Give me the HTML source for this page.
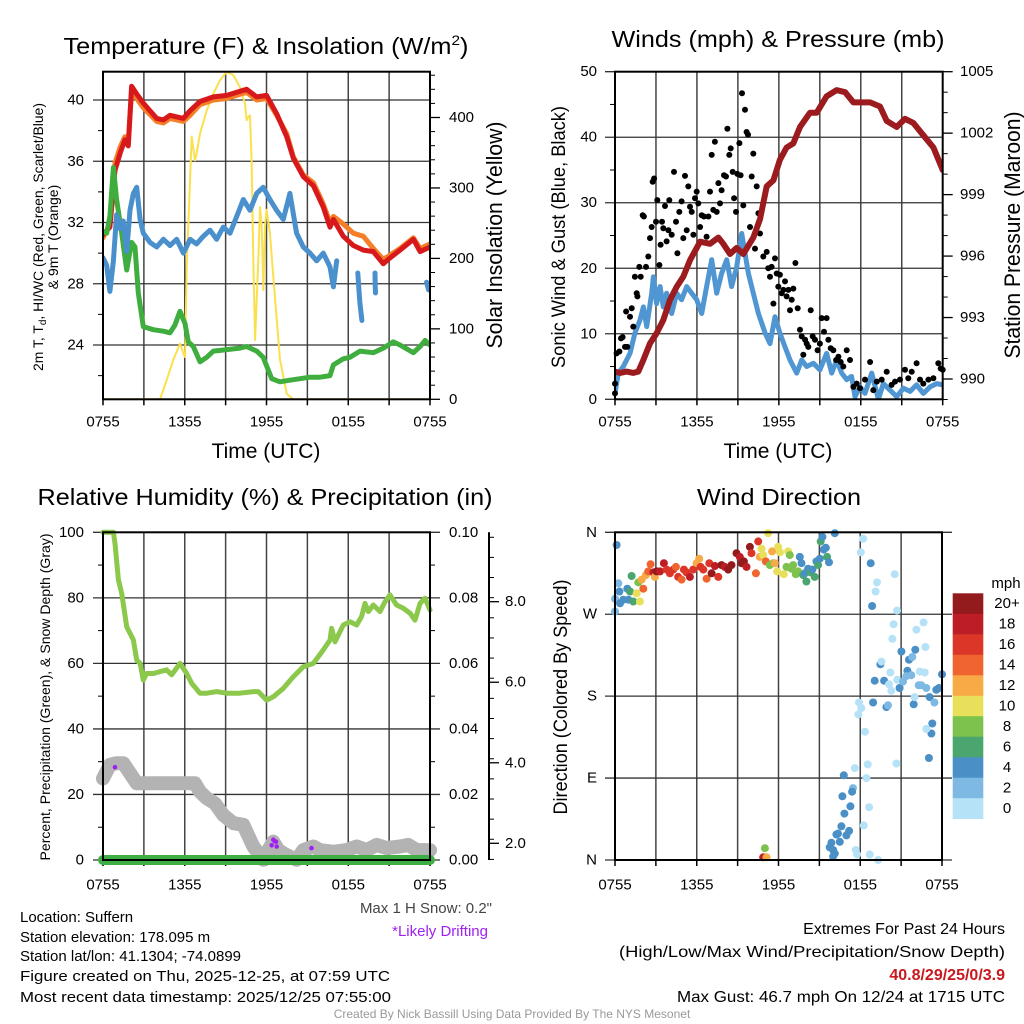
<!DOCTYPE html>
<html><head><meta charset="utf-8">
<style>
html,body{margin:0;padding:0;background:#fff;}
svg{display:block;font-family:"Liberation Sans",sans-serif;}
</style></head>
<body>
<svg id="chart" width="1024" height="1024" viewBox="0 0 1024 1024" xmlns="http://www.w3.org/2000/svg">
<rect x="0" y="0" width="1024" height="1024" fill="#fff"/>
<defs>
<clipPath id="c1"><rect x="103" y="71" width="327" height="329"/></clipPath>
<clipPath id="c2"><rect x="615" y="71" width="328" height="329"/></clipPath>
<clipPath id="c4"><rect x="610" y="527" width="337" height="338"/></clipPath>
</defs>
<g id="layer"></g>
<!-- Titles -->
<text x="266" y="54" text-anchor="middle" font-size="23" textLength="405" lengthAdjust="spacingAndGlyphs">Temperature (F) &amp; Insolation (W/m<tspan dy="-9" font-size="14">2</tspan><tspan dy="9">)</tspan></text>
<text x="778" y="47" text-anchor="middle" font-size="23" textLength="333" lengthAdjust="spacingAndGlyphs">Winds (mph) &amp; Pressure (mb)</text>
<text x="265" y="505" text-anchor="middle" font-size="23" textLength="455" lengthAdjust="spacingAndGlyphs">Relative Humidity (%) &amp; Precipitation (in)</text>
<text x="779" y="505" text-anchor="middle" font-size="23" textLength="164" lengthAdjust="spacingAndGlyphs">Wind Direction</text>
<!-- Axis titles -->
<text x="266" y="458" text-anchor="middle" font-size="21">Time (UTC)</text>
<text x="778" y="458" text-anchor="middle" font-size="21">Time (UTC)</text>
<text transform="translate(43,237) rotate(-90)" text-anchor="middle" font-size="14" textLength="268" lengthAdjust="spacingAndGlyphs">2m T, T<tspan dy="3" font-size="10">d</tspan><tspan dy="-3">, HI/WC (Red, Green, Scarlet/Blue)</tspan></text>
<text transform="translate(58,237) rotate(-90)" text-anchor="middle" font-size="14">&amp; 9m T (Orange)</text>
<text transform="translate(502,235) rotate(-90)" text-anchor="middle" font-size="22" textLength="227" lengthAdjust="spacingAndGlyphs">Solar Insolation (Yellow)</text>
<text transform="translate(565,237) rotate(-90)" text-anchor="middle" font-size="19" textLength="262" lengthAdjust="spacingAndGlyphs">Sonic Wind &amp; Gust (Blue, Black)</text>
<text transform="translate(1020,235) rotate(-90)" text-anchor="middle" font-size="22" textLength="247" lengthAdjust="spacingAndGlyphs">Station Pressure (Maroon)</text>
<text transform="translate(50,697) rotate(-90)" text-anchor="middle" font-size="14" textLength="327" lengthAdjust="spacingAndGlyphs">Percent, Precipitation (Green), &amp; Snow Depth (Gray)</text>
<text transform="translate(567,697) rotate(-90)" text-anchor="middle" font-size="19" textLength="235" lengthAdjust="spacingAndGlyphs">Direction (Colored By Speed)</text>
<!-- Colorbar label -->
<text x="1006" y="588" text-anchor="middle" font-size="15">mph</text>
<!-- Footer text -->
<text x="492" y="913" text-anchor="end" font-size="15" fill="#444">Max 1 H Snow: 0.2"</text>
<text x="488" y="936" text-anchor="end" font-size="15" fill="#a020f0">*Likely Drifting</text>
<g font-size="15" fill="#000">
<text x="20" y="922">Location: Suffern</text>
<text x="20" y="942">Station elevation: 178.095 m</text>
<text x="20" y="961">Station lat/lon: 41.1304; -74.0899</text>
<text x="20" y="981" textLength="370" lengthAdjust="spacingAndGlyphs">Figure created on Thu, 2025-12-25, at 07:59 UTC</text>
<text x="20" y="1002" textLength="371" lengthAdjust="spacingAndGlyphs">Most recent data timestamp: 2025/12/25 07:55:00</text>
</g>
<g font-size="16" text-anchor="end">
<text x="1005" y="934">Extremes For Past 24 Hours</text>
<text x="1005" y="957" textLength="386" lengthAdjust="spacingAndGlyphs">(High/Low/Max Wind/Precipitation/Snow Depth)</text>
<text x="1005" y="980" font-weight="bold" fill="#c8191e">40.8/29/25/0/3.9</text>
<text x="1005" y="1002" textLength="328" lengthAdjust="spacingAndGlyphs">Max Gust: 46.7 mph On 12/24 at 1715 UTC</text>
</g>
<text x="512" y="1018" text-anchor="middle" font-size="12" fill="#999">Created By Nick Bassill Using Data Provided By The NYS Mesonet</text>
</svg>
<script>
// ===== Panel 1: temperature =====
const tempHour=[0,0.51,0.88,1.25,1.61,1.86,2.10,2.47,2.96,3.94,4.43,4.92,5.90,6.39,7.12,8.10,9.08,9.81,10.54,11.28,12.01,12.75,13.48,13.97,14.70,15.44,16.17,16.66,16.91,17.64,18.37,19.11,19.84,20.57,20.94,21.80,22.78,23.27,24];
const tempRed=[31.2,31.7,35.4,36.5,37.4,37.0,40.9,40.4,39.8,38.8,38.7,39.0,38.8,39.3,39.9,40.2,40.3,40.5,40.7,40.2,40.3,39.1,37.6,36.2,35.0,34.4,33.0,31.7,32.2,31.1,30.5,30.2,30.1,29.3,29.6,30.2,30.9,30.1,30.4];
const temp9m=[31.0,31.9,35.9,36.9,37.6,37.3,40.6,40.1,39.5,38.6,38.5,38.8,38.6,39.0,39.7,40.0,40.1,40.3,40.5,40.0,40.1,39.0,37.8,36.3,35.1,34.6,33.2,32.0,32.4,31.9,31.3,31.1,30.3,29.6,29.8,30.3,31.0,30.3,30.6];
const dewHour=[0,0.27,0.51,0.76,1.0,1.37,1.74,2.10,2.35,2.59,2.96,3.69,4.43,4.92,5.28,5.65,6.02,6.26,6.63,7.12,7.61,8.10,9.08,10.05,10.54,11.28,11.76,12.38,12.99,13.72,14.46,15.19,15.93,16.66,16.91,17.64,18.13,18.86,19.84,20.57,21.31,21.80,22.78,23.27,23.64,24];
const dewPoint=[31.4,31.3,32.4,35.6,33.5,31.3,28.9,30.7,30.4,27.4,25.2,25.0,24.9,24.8,25.3,26.2,25.4,24.2,23.9,22.9,23.2,23.6,23.7,23.8,23.9,23.6,23.2,21.8,21.6,21.7,21.8,21.9,21.9,22.0,22.7,23.1,23.2,23.6,23.5,23.8,24.2,24.0,23.5,23.9,24.3,24.0];
const chillHour=[0,0.27,0.51,0.76,1.0,1.25,1.49,1.74,1.98,2.23,2.47,2.72,2.96,3.45,3.94,4.43,4.92,5.41,5.90,6.39,6.87,7.36,7.85,8.34,8.83,9.32,9.81,10.30,10.79,11.28,11.76,12.25,12.74,13.23,13.72,14.21,14.70,15.19,15.68,16.17,16.66,16.91,17.15,17.3,18.7,18.85,19.0,19.5,19.96,19.98,20.0,23.5,23.75,23.9];
const windChill=[29.7,29.2,27.5,29.5,32.5,31.6,32.1,30.1,32.8,33.9,34.3,32.2,31.3,30.7,30.4,30.9,30.5,30.9,30.0,30.9,30.6,31.1,31.5,30.9,31.7,31.3,32.4,33.5,32.8,33.9,34.3,33.5,32.8,32.2,33.9,31.3,30.4,30.0,29.5,30.0,29.1,27.8,29.5,null,28.7,26.8,25.6,null,28.7,27.9,27.4,null,28.1,27.6];
const solarHour=[0,4.18,4.67,5.16,5.65,5.90,6.02,6.14,6.51,6.75,6.87,7.12,7.61,8.10,8.59,9.08,9.57,10.05,10.42,10.54,10.67,10.79,10.91,11.03,11.16,11.40,11.52,11.65,11.77,11.89,12.01,12.26,12.50,12.99,13.48,13.97,24];
const solar=[0,0,27,56,79,65,60,188,373,339,349,377,410,434,453,465,460,443,420,396,401,403,339,198,84,198,273,245,155,245,269,235,174,56,8,0,0];
const tempTicks=[24,28,32,36,40];
const tempMinor=[22,26,30,34,38];
const solarTicks=[0,100,200,300,400];
const timeTickLabels=["0755","1355","1955","0155","0755"];
const timeTickHours=[0,6,12,18,24];
// ===== Panel 2: winds / pressure =====
const presHour=[0,0.37,0.85,1.34,1.71,2.08,2.56,3.05,3.54,4.03,4.52,5.0,5.49,6.23,6.96,7.57,7.93,8.42,8.91,9.40,10.13,10.62,11.11,11.60,12.08,12.57,13.06,13.55,14.28,14.77,15.50,16.24,16.85,17.46,17.94,18.68,19.41,19.90,20.63,21.24,21.85,22.58,23.32,24];
const pressure=[990.36,990.3,990.36,990.3,990.36,990.93,991.74,992.23,992.88,993.86,994.5,995.0,995.8,996.7,996.6,996.9,996.6,996.1,996.4,996.1,996.9,997.8,999.4,999.7,1000.7,1001.3,1001.5,1002.3,1003.0,1003.0,1003.8,1004.1,1004.0,1003.5,1003.5,1003.5,1003.3,1002.6,1002.3,1002.7,1002.5,1001.9,1001.3,1000.2];
const windHour=[0,0.24,0.61,1.10,1.46,1.83,2.08,2.32,2.69,2.81,3.05,3.30,3.54,3.78,4.15,4.52,4.88,5.25,5.62,5.98,6.35,6.71,7.08,7.45,7.81,8.18,8.54,8.91,9.28,9.52,9.77,10.13,10.50,10.99,11.35,11.72,12.08,12.45,12.82,13.31,13.67,14.04,14.53,15.01,15.50,15.87,16.24,16.60,16.97,17.33,17.58,17.94,18.31,18.80,19.29,19.65,20.14,20.63,21.12,21.61,22.09,22.58,23.07,23.56,24];
const windSpeed=[0.9,4.0,5.0,7.0,10.1,12.1,14.1,11.1,16.2,18.7,14.6,17.2,14.1,16.2,13.1,16.2,15.2,17.2,16.2,15.2,13.1,17.2,21.3,16.2,19.2,21.3,17.2,20.2,25.3,22.3,19.2,16.2,13.1,10.1,8.5,12.6,10.1,8.0,6.0,4.0,6.0,5.0,5.5,4.5,7.0,4.0,6.0,4.0,3.0,3.5,0.4,1.9,0.9,4.0,0,2.4,1.4,0.4,1.7,1.2,2.2,0.9,1.9,2.4,2.2];
const gustHour=[0,0,0.12,0.32,0.44,0.56,0.73,0.81,0.90,1.10,1.22,1.34,1.46,1.59,1.64,1.78,1.88,2.03,2.12,2.27,2.44,2.56,2.69,2.76,2.86,3.00,3.10,3.25,3.34,3.44,3.54,3.66,3.78,3.91,3.98,4.15,4.32,4.47,4.57,4.71,4.88,5.00,5.13,5.25,5.37,5.49,5.62,5.74,5.86,5.98,6.10,6.23,6.35,6.52,6.71,6.84,6.96,7.08,7.20,7.32,7.45,7.57,7.69,7.81,7.98,8.13,8.23,8.37,8.47,8.62,8.72,8.86,8.96,9.11,9.20,9.30,9.40,9.52,9.64,9.74,9.89,10.01,10.13,10.25,10.38,10.50,10.62,10.86,11.11,11.23,11.35,11.47,11.60,11.72,11.84,11.96,12.08,12.21,12.33,12.45,12.57,12.70,12.82,12.94,13.06,13.21,13.38,13.55,13.67,13.79,13.92,14.04,14.16,14.33,14.48,14.65,14.84,15.01,15.14,15.31,15.50,15.63,15.80,15.99,16.19,16.36,16.53,16.72,16.97,17.21,17.46,17.70,17.94,18.31,18.68,18.92,19.17,19.53,19.90,20.26,20.51,20.87,21.24,21.48,21.73,22.09,22.34,22.58,22.95,23.32,23.68,23.85,24.0];
const gustSpeed=[2.4,0.9,7.0,7.3,9.3,9.5,8.0,13.4,8.0,12.6,13.9,11.1,18.7,16.2,15.7,20.2,18.7,28.1,27.9,20.2,21.8,24.6,26.3,33.2,33.7,27.1,30.4,20.5,23.6,27.1,26.1,29.5,24.1,25.8,30.4,25.1,34.7,27.1,22.3,28.6,30.2,24.6,34.1,25.8,32.5,29.4,28.6,25.1,30.7,31.7,29.9,26.3,28.1,27.9,24.8,27.9,31.7,37.3,28.9,39.3,28.6,33.0,29.9,31.9,34.2,34.0,41.3,37.3,38.3,34.7,30.7,28.6,34.4,39.1,34.2,46.7,29.6,44.2,40.8,40.4,26.3,34.0,37.5,23.0,32.5,28.4,25.3,21.8,22.5,20.0,18.7,20.2,14.6,21.5,19.2,17.2,19.0,16.2,16.7,18.0,15.7,16.7,13.6,15.2,16.9,20.8,13.9,10.6,9.6,6.8,9.1,8.5,8.0,13.6,9.6,9.1,7.5,8.5,12.4,10.3,12.4,9.1,7.8,7.5,6.0,6.5,5.7,5.0,7.5,6.0,1.9,2.4,1.7,3.0,5.7,1.4,2.7,3.0,4.2,2.2,2.7,3.0,4.5,3.2,4.2,5.5,3.0,2.4,3.0,3.2,5.5,4.7,4.5];
const windTicks=[0,10,20,30,40,50];
const windMinor=[5,15,25,35,45];
const presTicks=[990,993,996,999,1002,1005];
// ===== Panel 3: humidity / precip / snow =====
const rhHour=[0,0.76,0.88,1.13,1.37,1.74,1.98,2.23,2.47,2.72,2.96,3.20,3.69,4.18,4.67,5.04,5.65,6.14,6.51,7.12,7.61,8.34,9.08,10.05,11.03,11.40,12.01,12.50,13.24,13.97,14.70,15.44,16.17,16.66,16.78,17.03,17.64,18.13,18.62,18.98,19.23,19.47,19.84,20.33,20.70,21.06,21.55,22.04,22.53,22.90,23.27,23.63,24];
const relHum=[100,100,96.6,85.5,81.4,71.2,69.2,67.1,61.0,60.0,54.9,56.9,56.9,57.5,58.0,56.5,60.0,56.9,53.9,50.9,50.9,51.4,50.9,50.9,51.4,51.4,48.8,49.8,52.4,55.9,59.0,60.0,64.1,67.1,70.7,66.6,71.7,72.7,71.7,74.3,78.3,75.8,77.8,75.8,78.8,80.9,77.8,76.8,75.3,73.2,78.3,79.9,76.3];
const snowHour=[0,0.51,1.0,1.49,1.98,2.47,3.45,4.67,5.90,6.75,7.12,7.61,8.22,8.83,9.57,10.30,11.03,11.77,12.13,12.50,12.87,13.24,13.72,14.21,14.70,15.44,15.93,16.91,17.88,18.62,19.35,20.09,20.82,21.80,22.41,23.02,24];
const snowDepth=[3.61,3.95,3.99,3.99,3.74,3.49,3.49,3.49,3.49,3.49,3.28,3.12,2.99,2.70,2.50,2.46,1.92,1.59,1.83,2.04,1.83,1.75,1.67,1.59,1.83,1.92,1.83,1.79,1.83,1.92,1.83,1.96,1.88,1.92,1.96,1.83,1.83];
const precipHour=[0,24];
const precip=[0,0];
const driftHour=[0.88,12.38,12.5,12.6,12.7,12.75,15.3];
const driftDepth=[3.89,1.95,2.09,2.05,2.04,1.92,1.88];
const rhTicks=[0,20,40,60,80,100];
const rhMinor=[10,30,50,70,90];
const precipTicks=["0.00","0.02","0.04","0.06","0.08","0.10"];
const snowTicks=[2,4,6,8];
// ===== Panel 4: wind direction =====
const dirHour=[0.12,0.24,0,0,0.32,0.37,0.61,0.90,1.10,1.22,0.98,1.34,1.59,1.71,1.83,2.08,1.96,2.27,2.44,2.61,2.81,2.93,3.05,3.30,3.59,3.79,4.03,4.28,4.47,4.64,4.89,5.06,5.25,5.50,5.74,5.99,6.18,6.28,6.48,6.72,6.92,7.09,7.33,7.58,7.82,8.06,8.31,8.55,8.92,9.16,9.29,9.46,9.65,9.90,10.02,10.34,10.51,10.63,10.75,10.88,11.07,11.24,11.36,11.53,11.61,11.73,11.90,11.97,12.10,12.39,12.59,12.71,12.83,12.95,13.07,13.27,13.44,13.56,13.69,13.81,13.93,14.05,14.17,14.35,14.49,14.66,14.78,14.91,15.03,15.10,15.22,15.32,15.47,15.57,15.71,16.13,
18.21,18.04,18.77,19.23,19.13,18.87,20.53,20.70,20.45,20.36,22.12,22.65,22.78,21.02,21.58,21.82,22.04,19.48,19.55,20.21,21.46,19.06,19.75,20.11,20.72,20.89,21.14,21.38,21.75,22.36,22.73,22.29,22.48,22.85,23.58,23.78,24.0,20.28,23.09,23.44,18.94,19.92,20.04,21.92,21.99,17.91,18.08,17.86,18.35,23.29,23.22,22.85,23.04,20.65,18.55,17.60,16.79,18.45,17.47,17.40,16.69,18.65,17.28,16.84,18.26,16.62,17.18,16.25,16.37,16.98,16.50,15.88,15.76,16.01,16.13,16.01,17.67,17.77,18.70,19.31,11.00,10.88,11.12];
const dirDeg=[346,304,287,273,295,282,286,298,295,312,286,284,293,305,284,298,308,313,317,325,316,311,317,317,326,319,315,319,322,311,308,319,316,311,319,326,331,322,319,309,326,315,323,311,324,322,319,324,337,333,326,328,322,344,337,315,350,333,342,335,328,359,324,339,326,326,317,344,338,314,322,339,335,320,324,314,317,333,326,313,315,306,320,316,319,311,328,324,331,350,355,341,343,333,327,359,
353,338,326,305,295,279,314,274,259,243,253,261,234,229,220,223,231,215,218,206,208,197,197,193,198,189,196,202,203,207,206,192,192,189,187,189,204,186,179,173,173,168,170,171,179,173,167,160,141,150,139,144,112,106,105,101,93,90,79,75,70,58,59,51,38,37,32,28,29,27,20,19,14,11,7,4,11,6,6,0,13,3,3];
const dirSpeed=[4,2,2,2,4,4,4,4,6,6,4,6,10,8,10,14,12,12,14,14,18,12,20,18,18,16,16,16,14,16,14,16,16,18,16,12,12,16,16,14,16,20,18,16,20,18,20,20,20,18,20,20,18,20,16,14,16,12,10,10,14,10,8,12,8,12,10,10,10,10,8,10,8,8,8,8,8,4,4,6,4,6,4,6,4,6,4,6,4,6,4,4,4,6,4,4,
0,0,4,0,0,4,0,0,0,0,0,0,0,4,4,2,4,4,0,0,4,4,4,0,0,4,2,2,2,0,0,2,2,2,4,4,4,0,4,2,4,4,2,4,0,0,0,0,0,4,4,0,4,0,0,0,4,0,2,4,4,0,4,4,0,4,4,4,4,4,4,4,4,4,4,4,0,0,0,0,8,18,12];
const dirTickLabels=["N","E","S","W","N"];
const dirTickDeg=[0,90,180,270,360];
const speedBinLabels=["20+","18","16","14","12","10","8","6","4","2","0"];
const speedBinColors=["#931a1d","#bd1e26","#dc3628","#f06430","#f7aa46","#e8e05a","#7cc24c","#4aa56e","#4a8fc6","#7db9e3","#b6e2f7"];

// ===== drawing =====
const NS="http://www.w3.org/2000/svg";
const root=document.getElementById('layer');
function mk(tag,parent){const e=document.createElementNS(NS,tag);(parent||root).appendChild(e);return e;}
function lin(d0,d1,r0,r1){return v=>r0+(v-d0)*(r1-r0)/(d1-d0);}
function linePath(xs,ys,fx,fy){let d="",pen=false;for(let i=0;i<xs.length;i++){if(ys[i]===null||ys[i]===undefined){pen=false;continue;}d+=(pen?"L":"M")+fx(xs[i]).toFixed(1)+" "+fy(ys[i]).toFixed(1);pen=true;}return d;}
function seg(g,x1,y1,x2,y2,stroke,w){const l=mk('line',g);l.setAttribute('x1',x1);l.setAttribute('y1',y1);l.setAttribute('x2',x2);l.setAttribute('y2',y2);l.setAttribute('stroke',stroke);l.setAttribute('stroke-width',w);return l;}
function txt(g,x,y,s,anchor,size){const t=mk('text',g);t.setAttribute('x',x);t.setAttribute('y',y);t.setAttribute('text-anchor',anchor);t.setAttribute('font-size',size||15);t.setAttribute('dominant-baseline','central');t.textContent=s;return t;}
function drawLine(g,xs,ys,fx,fy,color,w,name,clip){const p=mk('path',g);p.setAttribute('d',linePath(xs,ys,fx,fy));p.setAttribute('fill','none');p.setAttribute('stroke',color);p.setAttribute('stroke-width',w);p.setAttribute('stroke-linejoin','round');p.setAttribute('stroke-linecap','round');if(clip)p.setAttribute('clip-path',clip);


return p;}
function frame(g,x0,y0,x1,y1){const r=mk('rect',g);r.setAttribute('x',x0);r.setAttribute('y',y0);r.setAttribute('width',x1-x0);r.setAttribute('height',y1-y0);r.setAttribute('fill','none');r.setAttribute('stroke','#000');r.setAttribute('stroke-width',2);

}
function timeAxis(g,fx,y1,y0,labelY){for(let h=0;h<=24;h+=3){seg(g,fx(h),y0,fx(h),y1,'#444',1.5);seg(g,fx(h),y1,fx(h),y1+6,'#000',1.5);}
for(let i=0;i<timeTickHours.length;i++){const t=txt(g,fx(timeTickHours[i]),labelY,timeTickLabels[i],'middle',15);

}}

// Panel 1
(function(){
const g=mk('g');


const X0=103,X1=430,Y0=71.7,Y1=399.3;
const fx=lin(0,24,X0,X1), fy=lin(40,24,100,345), fs=lin(0,400,Y1,117.5);
timeAxis(g,fx,Y1,Y0,422);
tempTicks.forEach(v=>{seg(g,X0-10,fy(v),X1,fy(v),'#333',1.3);const t=txt(g,84,fy(v),String(v),'end');

});
tempMinor.forEach(v=>seg(g,X0-5,fy(v),X0,fy(v),'#000',1));
solarTicks.forEach(v=>{seg(g,X1,fs(v),X1+10,fs(v),'#000',1.3);const t=txt(g,449,fs(v),String(v),'start');

});
for(let v=20;v<=460;v+=20){if(v%100)seg(g,X1,fs(v),X1+5,fs(v),'#000',1);}
drawLine(g,solarHour,solar,fx,fs,'#fbe04e',2,'solar-insolation-line','url(#c1)');
drawLine(g,tempHour,temp9m,fx,fy,'#f57e28',5,'temp-9m-line','url(#c1)');
drawLine(g,tempHour,tempRed,fx,fy,'#d7191c',5,'temp-2m-line','url(#c1)');
drawLine(g,dewHour,dewPoint,fx,fy,'#3fae3f',5,'dewpoint-line','url(#c1)');
drawLine(g,chillHour,windChill,fx,fy,'#4a90cc',5,'wind-chill-line','url(#c1)');
frame(g,X0,Y0,X1,Y1);
})();

// Panel 2
(function(){
const g=mk('g');


const X0=615,X1=942.7,Y0=71.7,Y1=399.3;
const fx=lin(0,24,X0,X1), fy=lin(0,50,Y1,71.7), fp=lin(990,1005,379,71.7);
timeAxis(g,fx,Y1,Y0,422);
windTicks.forEach(v=>{seg(g,X0-10,fy(v),X1,fy(v),'#333',1.3);const t=txt(g,597,fy(v),String(v),'end');

});
windMinor.forEach(v=>seg(g,X0-5,fy(v),X0,fy(v),'#000',1));
presTicks.forEach(v=>{seg(g,X1,fp(v),X1+10,fp(v),'#000',1.3);const t=txt(g,960,fp(v),String(v),'start');

});
for(let v=989;v<=1005;v++){if((v-990)%3)seg(g,X1,fp(v),X1+5,fp(v),'#000',1);}
drawLine(g,windHour,windSpeed,fx,fy,'#4f96d2',5,'sonic-wind-line','url(#c2)');
for(let i=0;i<gustHour.length;i++){const c=mk('circle',g);c.setAttribute('cx',fx(gustHour[i]).toFixed(1));c.setAttribute('cy',fy(gustSpeed[i]).toFixed(1));c.setAttribute('r',3);c.setAttribute('fill','#000');

}
drawLine(g,presHour,pressure,fx,fp,'#9b1b1e',6,'pressure-line','url(#c2)');
frame(g,X0,Y0,X1,Y1);
})();

// Panel 3
(function(){
const g=mk('g');


const X0=103,X1=430,Y0=532.3,Y1=860;
const fx=lin(0,24,X0,X1), fy=lin(0,100,Y1,Y0), fsn=lin(2,8,843.3,601.7), fpr=lin(0,0.1,Y1,Y0);
timeAxis(g,fx,Y1,Y0,885);
rhTicks.forEach((v,i)=>{seg(g,X0-10,fy(v),X1+10,fy(v),'#333',1.3);const t=txt(g,84,fy(v),String(v),'end');


const r=txt(g,449,fy(v),precipTicks[i],'start');

});
rhMinor.forEach(v=>{seg(g,X0-5,fy(v),X0,fy(v),'#000',1);seg(g,X1,fy(v),X1+5,fy(v),'#000',1);});
const ax=mk('g',g);


seg(ax,489,Y0,489,Y1,'#000',2);
for(let v=1.6;v<=10.1;v+=0.5){const y=fsn(v);if(y>=Y0&&y<=Y1)seg(ax,489,y,494,y,'#000',1);}
snowTicks.forEach(v=>{seg(ax,489,fsn(v),499,fsn(v),'#000',1.3);const t=txt(ax,505,fsn(v),v.toFixed(1),'start');

});
drawLine(g,snowHour,snowDepth,fx,fsn,'#b3b3b3',14,'snow-depth-band',null);
drawLine(g,rhHour,relHum,fx,fy,'#8cc84b',5,'relative-humidity-line',null);
drawLine(g,precipHour,precip,fx,fpr,'#3cae43',10,'precipitation-line',null);
for(let i=0;i<driftHour.length;i++){const c=mk('circle',g);c.setAttribute('cx',fx(driftHour[i]).toFixed(1));c.setAttribute('cy',fsn(driftDepth[i]).toFixed(1));c.setAttribute('r',2.3);c.setAttribute('fill','#a020f0');

}
frame(g,X0,Y0,X1,Y1);
})();

// Panel 4
(function(){
const g=mk('g');


const X0=615,X1=942,Y0=532.3,Y1=860;
const fx=lin(0,24,X0,X1), fy=lin(0,360,Y1,Y0);
timeAxis(g,fx,Y1,Y0,885);
dirTickDeg.forEach((v,i)=>{seg(g,X0-10,fy(v),X1+10,fy(v),'#333',1.3);const t=txt(g,597,fy(v),dirTickLabels[i],'end');

});
for(let i=0;i<dirHour.length;i++){const bin=Math.min(10,Math.floor(dirSpeed[i]/2));const c=mk('circle',g);c.setAttribute('cx',fx(dirHour[i]).toFixed(1));c.setAttribute('cy',fy(dirDeg[i]).toFixed(1));c.setAttribute('r',4);c.setAttribute('fill',speedBinColors[10-bin]);c.setAttribute('clip-path','url(#c4)');

}
frame(g,X0,Y0,X1,Y1);
const cb=mk('g',g);


const bh=(818.7-593.3)/speedBinLabels.length;
speedBinLabels.forEach((lab,i)=>{const r=mk('rect',cb);r.setAttribute('x',952.7);r.setAttribute('y',(593.3+i*bh).toFixed(1));r.setAttribute('width',30.6);r.setAttribute('height',(bh+0.3).toFixed(1));r.setAttribute('fill',speedBinColors[i]);


const t=txt(cb,1007,593.3+(i+0.5)*bh,lab,'middle',15);

});
})();
</script>
</body></html>
